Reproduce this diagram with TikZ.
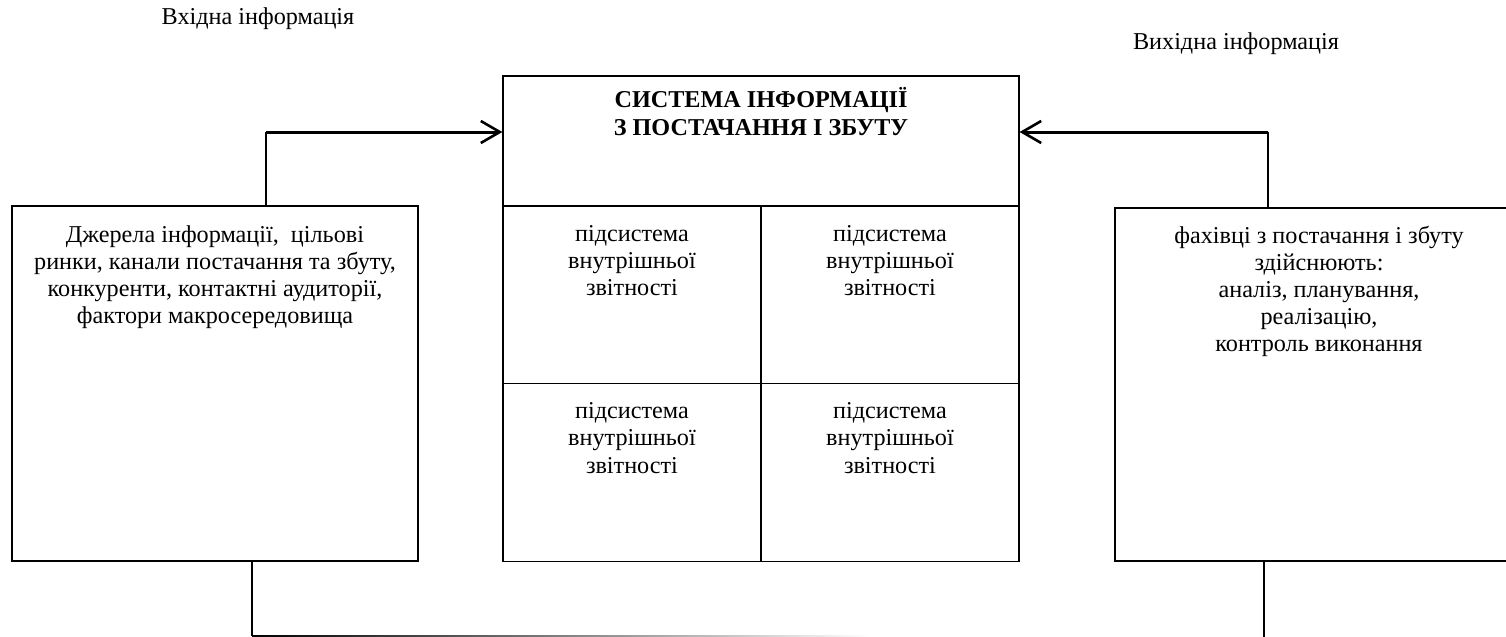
\documentclass[tikz,border=0pt]{standalone}
\usepackage{fontspec}
\setmainfont{Liberation Serif}
\usepackage{tikz}
\usetikzlibrary{positioning, arrows.meta}

\tikzset{
	korobka/.style={draw, line width=0.6pt, inner sep=0pt},
	tekst/.style={align=center, inner sep=0pt, anchor=north,
		font=\fontsize{12.1}{13.5}\selectfont},
	tonka/.style={line width=0.6pt},
	strilka/.style={line width=1.5pt, -{Straight Barb[length=9.5pt, width=11pt, line width=1.3pt]}},
}

\begin{document}
\begin{tikzpicture}[x=0.5pt, y=-0.5pt]
			\useasboundingbox (0,0) rectangle (1506,637);

			% Підписи
			\node[tekst, anchor=center] (vhidna) at (258,19) {Вхідна інформація};
			\node[tekst, anchor=center] (vyhidna) at (1236,44) {Вихідна інформація};

			% Джерела інформації
			\node[korobka, minimum width=203pt, minimum height=177.5pt] (dzherela) at (215,383.5) {};
			\node[tekst, below=10pt of dzherela.north] {Джерела інформації,\ \ цільові\\ринки, канали постачання та збуту,\\конкуренти, контактні аудиторії,\\фактори макросередовища};

			% Фахівці
			\node[korobka, minimum width=204pt, minimum height=176.5pt] (fakhivtsi) at (1319,384.5) {};
			\node[tekst, below=9pt of fakhivtsi.north] {фахівці з постачання і збуту\\здійснюють:\\аналіз, планування,\\реалізацію,\\контроль виконання};

			% Система
			\node[korobka, minimum width=258pt, minimum height=65pt] (systema) at (761,141) {};
			\node[tekst, below=6pt of systema.north, font=\fontsize{12.1}{14}\selectfont\bfseries] {СИСТЕМА ІНФОРМАЦІЇ\\З ПОСТАЧАННЯ І ЗБУТУ};

			% Підсистеми
			\foreach \i/\cx/\cy in {1/632/295, 2/890/295, 3/632/472.5, 4/890/472.5}
				{
					\node[korobka, minimum width=129pt, minimum height=88.75pt] (pidsys\i) at (\cx,\cy) {};
					\node[tekst, below=9.5pt of pidsys\i.north, font=\fontsize{12.1}{13.7}\selectfont] {підсистема\\внутрішньої\\звітності};
				}

			% Вхід і вихід
			\coordinate (vhid) at (266,132);
			\coordinate (vyhid) at (1268,132);
			\draw[tonka] (dzherela.north -| vhid) -- (vhid);
			\draw[strilka] (vhid) -- (systema.west |- vhid);
			\draw[tonka] (fakhivtsi.north -| vyhid) -- (vyhid);
			\draw[strilka] (vyhid) -- (systema.east |- vyhid);

			% Зворотний зв'язок
			\coordinate (niz) at (252,635.5);
			\coordinate (kinets) at (870,637);
			\coordinate (nizprav) at (1264,637);
			\draw[tonka] (dzherela.south -| niz) -- (niz);
			\shade[left color=black, middle color=black!60, right color=white] (niz) rectangle (kinets);
			\draw[tonka] (fakhivtsi.south -| nizprav) -- (nizprav);

		\end{tikzpicture}
\end{document}
